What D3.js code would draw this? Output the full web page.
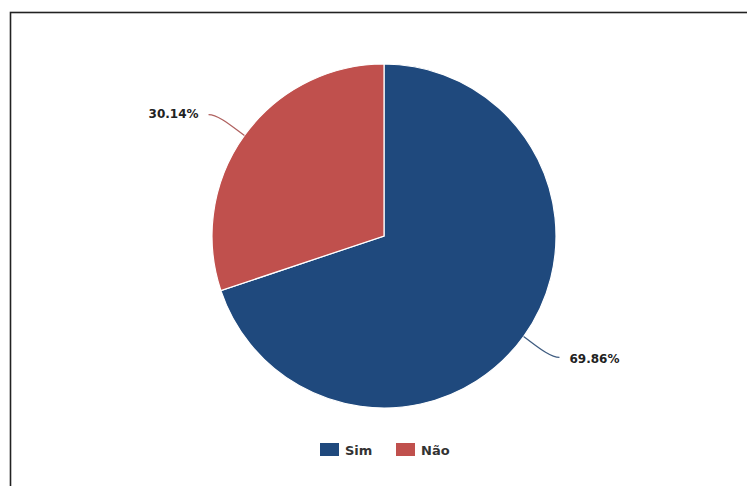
<!DOCTYPE html>
<html><head><meta charset="utf-8">
<script src="https://cdn.jsdelivr.net/npm/d3@7"></script>
<style>html,body{margin:0;padding:0;background:#fff}svg{display:block}</style>
</head><body>
<svg id="c" width="747" height="486"></svg>
<script>
const categories = ["Sim", "Não"];
const values = [69.86, 30.14];
const colors = ["#1F497D", "#C0504D"];

const svg = d3.select("#c");
svg.append("rect").attr("x", 10.5).attr("y", 12.5).attr("width", 760).attr("height", 500)
  .attr("fill", "#fff").attr("stroke", "#222").attr("stroke-width", 1.6);

const cx = 384, cy = 236, R = 172;
const data = categories.map((c, i) => ({ cat: c, value: values[i], color: colors[i] }));
const pie = d3.pie().value(d => d.value).sort(null);
const arcs = pie(data);
const arc = d3.arc().innerRadius(0).outerRadius(R);
const g = svg.append("g").attr("transform", `translate(${cx},${cy})`);
g.selectAll("path.s").data(arcs).join("path").attr("class", "s")
  .attr("d", arc).attr("fill", d => d.data.color)
  .attr("stroke", "#fff").attr("stroke-width", 1.2);

const font = "'DejaVu Sans', sans-serif";
arcs.forEach(a => {
  const m = (a.startAngle + a.endAngle) / 2;
  const sx = Math.sin(m), sy = -Math.cos(m);
  const p0 = [R * sx, R * sy];
  const side = sx >= 0 ? 1 : -1;
  const p1 = [(R + 14) * sx, (R + 14) * sy];
  const end = [(R + 22) * sx + side * 18, (R + 22) * sy + 8 * Math.sign(sy)];
  const c2 = [end[0] - side * 10, end[1]];
  const path = d3.path();
  path.moveTo(p0[0], p0[1]);
  path.bezierCurveTo(p1[0], p1[1], c2[0], c2[1], end[0], end[1]);
  const lc = d3.interpolateRgb(a.data.color, "#888")(0.3);
  g.append("path").attr("d", path.toString()).attr("fill", "none")
    .attr("stroke", lc).attr("stroke-width", 1.3);
  g.append("text").attr("x", end[0] + side * 10).attr("y", end[1] + side * 1)
    .attr("dy", "0.35em").attr("text-anchor", side > 0 ? "start" : "end")
    .attr("font-family", font).attr("font-weight", "bold").attr("font-size", 12)
    .attr("fill", "#222").text(a.data.value.toFixed(2) + "%");
});

// legend
const leg = svg.append("g").attr("transform", "translate(320,443)");
const offs = [0, 76];
data.forEach((d, i) => {
  const lg = leg.append("g").attr("transform", `translate(${offs[i]},0)`);
  lg.append("rect").attr("width", 19).attr("height", 13).attr("fill", d.color);
  lg.append("text").attr("x", 25).attr("y", 7).attr("dy", "0.35em")
    .attr("font-family", font).attr("font-weight", "bold").attr("font-size", 13)
    .attr("fill", "#333").text(d.cat);
});
</script>
</body></html>
